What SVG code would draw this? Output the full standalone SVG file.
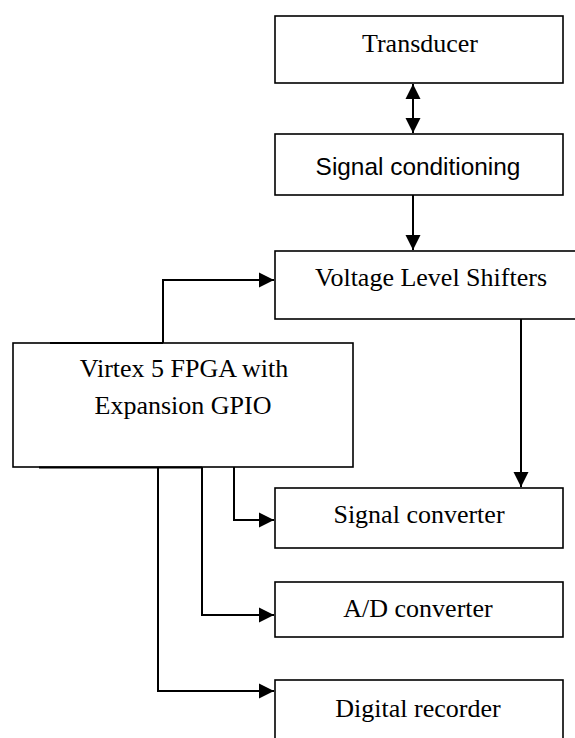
<svg xmlns="http://www.w3.org/2000/svg" width="575" height="738" viewBox="0 0 575 738">
  <style>
    .box { fill: #fff; stroke: #000; stroke-width: 1.6; }
    .serif { font-family: "Liberation Serif", "Times New Roman", serif; font-size: 26px; fill: #000; text-anchor: middle; }
    .sans { font-family: "Liberation Sans", Arial, sans-serif; font-size: 24.4px; fill: #000; text-anchor: middle; }
    .conn { fill: none; stroke: #000; stroke-width: 2; }
  </style>
  <defs>
    <marker id="arrow" markerUnits="userSpaceOnUse" markerWidth="16" markerHeight="16" refX="15" refY="8" orient="auto-start-reverse">
      <path d="M0,0.5 L15,8 L0,15.5 z" fill="#000"/>
    </marker>
  </defs>
  <rect width="575" height="738" fill="#fff"/>

  <g id="transducer">
    <rect class="box" x="275" y="16" width="288" height="67"/>
    <text class="serif" x="420" y="52">Transducer</text>
  </g>
  <g id="signal-conditioning">
    <rect class="box" x="275" y="134" width="288" height="61"/>
    <text class="sans" x="418" y="175">Signal conditioning</text>
  </g>
  <g id="voltage-level-shifters">
    <rect class="box" x="275" y="251" width="310" height="68"/>
    <text class="serif" x="431" y="286">Voltage Level Shifters</text>
  </g>
  <g id="fpga">
    <rect class="box" x="13" y="343" width="340" height="124"/>
    <text class="serif" x="184" y="377">Virtex 5 FPGA with</text>
    <text class="serif" x="183" y="414">Expansion GPIO</text>
  </g>
  <g id="signal-converter">
    <rect class="box" x="275" y="488" width="288" height="60"/>
    <text class="serif" x="419" y="523">Signal converter</text>
  </g>
  <g id="ad-converter">
    <rect class="box" x="275" y="582" width="288" height="55"/>
    <text class="serif" x="418" y="617">A/D converter</text>
  </g>
  <g id="digital-recorder">
    <rect class="box" x="275" y="680" width="288" height="70"/>
    <text class="serif" x="418" y="717">Digital recorder</text>
  </g>

  <g id="connectors">
    <line class="conn" x1="413" y1="84" x2="413" y2="133" marker-start="url(#arrow)" marker-end="url(#arrow)"/>
    <line class="conn" x1="413" y1="195" x2="413" y2="250" marker-end="url(#arrow)"/>
    <path class="conn" d="M163,343 V280 H274" marker-end="url(#arrow)"/>
    <path class="conn" d="M521,319 V487" marker-end="url(#arrow)"/>
    <path class="conn" d="M234,467 V520 H274" marker-end="url(#arrow)"/>
    <path class="conn" d="M202,467 V615 H274" marker-end="url(#arrow)"/>
    <path class="conn" d="M158,467 V691 H274" marker-end="url(#arrow)"/>
    <line class="conn" x1="50" y1="343" x2="163" y2="343"/>
    <line class="conn" x1="39" y1="467.5" x2="202" y2="467.5"/>
  </g>
</svg>
